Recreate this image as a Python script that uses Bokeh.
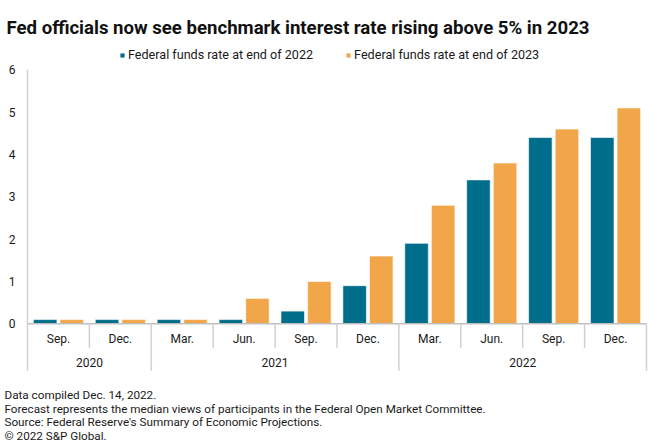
import numpy as np
from bokeh.plotting import figure
from bokeh.models import Legend, LegendItem, Range1d
from bokeh.core.properties import value
from bokeh.embed import file_html
from bokeh.resources import INLINE

# ---- data ----
months = ["Sep.", "Dec.", "Mar.", "Jun.", "Sep.", "Dec.", "Mar.", "Jun.", "Sep.", "Dec."]
years = ["2020", "2020", "2021", "2021", "2021", "2021", "2022", "2022", "2022", "2022"]
rate_end_2022 = [0.1, 0.1, 0.1, 0.1, 0.3, 0.9, 1.9, 3.4, 4.4, 4.4]
rate_end_2023 = [0.1, 0.1, 0.1, 0.6, 1.0, 1.6, 2.8, 3.8, 4.6, 5.1]
y_ticks = [0, 1, 2, 3, 4, 5, 6]
series_names = ["Federal funds rate at end of 2022", "Federal funds rate at end of 2023"]
title_text = "Fed officials now see benchmark interest rate rising above 5% in 2023"
notes = [
    "Data compiled Dec. 14, 2022.",
    "Forecast represents the median views of participants in the Federal Open Market Committee.",
    "Source: Federal Reserve's Summary of Economic Projections.",
    "\u00a9 2022 S&P Global.",
]

FONT = "Roboto"
TEAL = "#006e8a"
ORANGE = "#f2a64a"
GRID = "#d0d0d0"
TXT = "#1a1a1a"

W, H = 660, 448
CAT_PX = 61.9      # pixels per category
UNIT_PX = 42.33    # pixels per rate unit
LEFT_PX = 27       # canvas x of the plot area's left edge
ZERO_PX = 323.3    # canvas y of rate 0

n = len(months)
idx = np.arange(n)
x0 = -0.5 - LEFT_PX / CAT_PX
x1 = x0 + W / CAT_PX
y1 = ZERO_PX / UNIT_PX
y0 = y1 - H / UNIT_PX

p = figure(width=W, height=H, output_backend="svg", toolbar_location=None,
           x_range=Range1d(x0, x1), y_range=Range1d(y0, y1),
           min_border=0, x_axis_location=None, y_axis_location=None)
p.outline_line_color = None
p.grid.visible = False


def px_y(py):
    """canvas pixel y -> data y"""
    return y1 - py / UNIT_PX


def px_x(px):
    return x0 + px / CAT_PX


bw = 0.38
off = 0.215
r1 = p.vbar(x=idx - off, top=rate_end_2022, bottom=0, width=bw, fill_color=TEAL,
            line_color="white", line_alpha=0.6, line_width=1)
r2 = p.vbar(x=idx + off, top=rate_end_2023, bottom=0, width=bw, fill_color=ORANGE,
            line_color="white", line_alpha=0.6, line_width=1)

# baseline and value axis line
p.segment(x0=[-0.5], y0=[0], x1=[n - 0.5], y1=[0], line_color="#bfbfbf", line_width=1.5)
p.segment(x0=[-0.5], y0=[max(y_ticks)], x1=[-0.5], y1=[0], line_color=GRID, line_width=1.5)

# separators
sep_month = -24 / UNIT_PX
sep_year = -47 / UNIT_PX
year_bounds = [0] + [i for i in range(1, n) if years[i] != years[i - 1]] + [n]
month_bounds = [i for i in range(1, n) if i not in year_bounds]
p.segment(x0=[b - 0.5 for b in month_bounds], y0=[0] * len(month_bounds),
          x1=[b - 0.5 for b in month_bounds], y1=[sep_month] * len(month_bounds),
          line_color=GRID, line_width=1.5)
p.segment(x0=[b - 0.5 for b in year_bounds], y0=[0] * len(year_bounds),
          x1=[b - 0.5 for b in year_bounds], y1=[sep_year] * len(year_bounds),
          line_color=GRID, line_width=1.5)

# month labels
p.text(x=idx, y=[-15.5 / UNIT_PX] * n, text=months, text_align="center", text_baseline="middle",
       text_font=value(FONT), text_font_size="12px", text_color=TXT)
# year labels
uy, ux = [], []
for a, b in zip(year_bounds[:-1], year_bounds[1:]):
    uy.append(years[a])
    ux.append((a + b - 1) / 2)
p.text(x=ux, y=[-38.5 / UNIT_PX] * len(ux), text=uy, text_align="center", text_baseline="middle",
       text_font=value(FONT), text_font_size="12px", text_color=TXT)

# y tick labels
p.text(x=[-0.5 - 12 / CAT_PX] * len(y_ticks), y=y_ticks, text=[str(t) for t in y_ticks],
       text_align="right", text_baseline="middle",
       text_font=value(FONT), text_font_size="12px", text_color=TXT)

# legend
legend = Legend(items=[LegendItem(label=series_names[0], renderers=[r1]),
                       LegendItem(label=series_names[1], renderers=[r2])],
                orientation="horizontal", location=(119, 386),
                glyph_width=6, glyph_height=6, label_standoff=3, spacing=32,
                label_height=14, padding=0, margin=0,
                label_text_font=FONT, label_text_font_size="12.6px", label_text_color=TXT,
                border_line_color=None, background_fill_alpha=0)
p.add_layout(legend, "center")

# title
p.text(x=[px_x(6)], y=[px_y(27.7)], text=[title_text], text_align="left",
       text_baseline="alphabetic", text_font=value(FONT), text_font_size="18.6px",
       text_font_style="bold", text_color="#111111")
# notes
p.text(x=[px_x(4)] * len(notes), y=[px_y(394.5 + 13.5 * k) for k in range(len(notes))],
       text=notes, text_align="left", text_baseline="alphabetic",
       text_font=value(FONT), text_font_size="11.7px", text_color=TXT)

open("out.html", "w").write(file_html(p, INLINE))
